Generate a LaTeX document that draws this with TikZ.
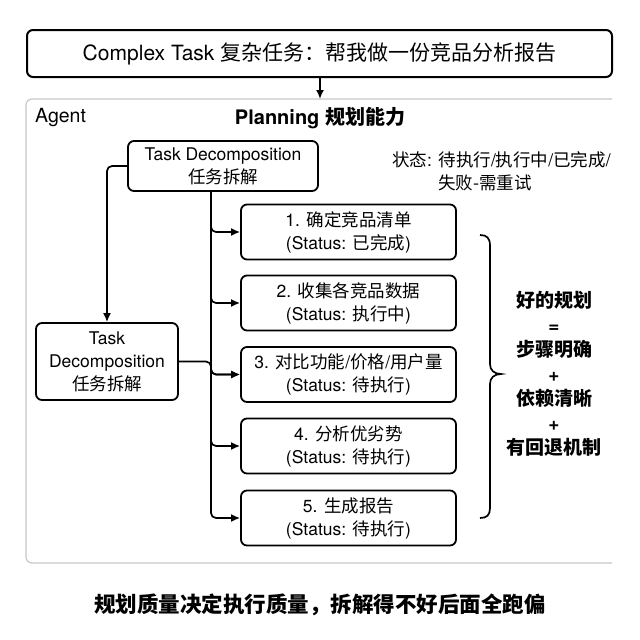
\documentclass[tikz,border=0pt]{standalone}
\usepackage{fontspec}
\setmainfont{TeX Gyre Heros}
\newfontfamily\cjk{Noto Sans CJK SC}
\usetikzlibrary{arrows.meta}
\tikzset{
  boxstyle/.style={draw, line width=1.8pt, rounded corners=6pt, align=center, inner sep=0pt},
  stepbox/.style={boxstyle, minimum width=215pt, minimum height=55pt, font=\fontsize{17.5}{23}\selectfont},
  conn/.style={line width=1.7pt, rounded corners=5pt},
  arr/.style={conn, -{Latex[length=9pt,width=8pt]}},
}
\begin{document}
\begin{tikzpicture}[x=1pt,y=-1pt]
\useasboundingbox[fill=white] (0,0) rectangle (640,640);
% container
\draw[draw=black!22, line width=1.2pt, rounded corners=6pt] (612,99) -- (26,99) -- (26,563) -- (612,563);
% top box
\node[boxstyle, line width=2pt, minimum width=585pt, minimum height=47pt, font=\fontsize{21}{25}\selectfont] (top) at (319.5,53.5) {Complex Task {\cjk 复杂任务：帮我做一份竞品分析报告}};
\coordinate (ctop) at (320,99);
\draw[arr] (top.south -| ctop) -- (ctop);
% labels
\node[anchor=west, inner sep=0pt, font=\fontsize{19.5}{23}\selectfont] (agent) at (35,118) {Agent};
\node[inner sep=0pt, font=\fontsize{20}{24}\selectfont\bfseries] (plan) at (320,118) {Planning {\cjk\bfseries 规划能力}};
\node[anchor=west, inner sep=0pt, font=\fontsize{17.5}{23}\selectfont] (st1) at (392,160) {{\cjk 状态}: {\cjk 待执行}/{\cjk 执行中}/{\cjk 已完成}/};
\node[anchor=west, inner sep=0pt, font=\fontsize{17.5}{23}\selectfont] (st2) at (438,183) {{\cjk 失败-需重试}};
% decomposition nodes
\node[boxstyle, minimum width=190pt, minimum height=50pt, font=\fontsize{17.5}{23}\selectfont] (td) at (223,166) {Task Decomposition\\{\cjk 任务拆解}};
\node[boxstyle, minimum width=142pt, minimum height=77pt, font=\fontsize{17.5}{23}\selectfont] (L) at (107,361.5) {Task\\Decomposition\\{\cjk 任务拆解}};
% steps
\node[stepbox] (s1) at (348.5,232) {1. {\cjk 确定竞品清单}\\(Status: {\cjk 已完成})};
\node[stepbox] (s2) at (348.5,303) {2. {\cjk 收集各竞品数据}\\(Status: {\cjk 执行中})};
\node[stepbox] (s3) at (348.5,374.5) {3. {\cjk 对比功能}/{\cjk 价格}/{\cjk 用户量}\\(Status: {\cjk 待执行})};
\node[stepbox] (s4) at (348.5,446) {4. {\cjk 分析优劣势}\\(Status: {\cjk 待执行})};
\node[stepbox] (s5) at (348.5,518) {5. {\cjk 生成报告}\\(Status: {\cjk 待执行})};
% connectors
\coordinate (tr) at (211,191);
\foreach \s in {s1,s2,s3,s4,s5}{
  \draw[arr] (tr) |- (\s.west);
}
\draw[arr] (td.west) -| (L.north);
\coordinate (j3) at (211,374.5);
\draw[arr] (L.east) -| (j3) -- (s3.west);
% brace
\draw[line width=1.7pt] (480,235) .. controls (487,235) and (490,238) .. (490,246) -- (490,364) .. controls (490,370) and (494,374) .. (501,374) .. controls (494,374) and (490,378) .. (490,384) -- (490,508) .. controls (490,515) and (487,518) .. (480,518);
\node[align=center, inner sep=0pt, font=\fontsize{19}{24.5}\selectfont\bfseries] (good) at (554,374) {{\cjk\bfseries 好的规划}\\=\\{\cjk\bfseries 步骤明确}\\+\\{\cjk\bfseries 依赖清晰}\\+\\{\cjk\bfseries 有回退机制}};
% bottom
\node[inner sep=0pt, font=\fontsize{21.5}{25}\selectfont] (bottom) at (320,605) {{\cjk\bfseries 规划质量决定执行质量，拆解得不好后面全跑偏}};
\end{tikzpicture}
\end{document}
